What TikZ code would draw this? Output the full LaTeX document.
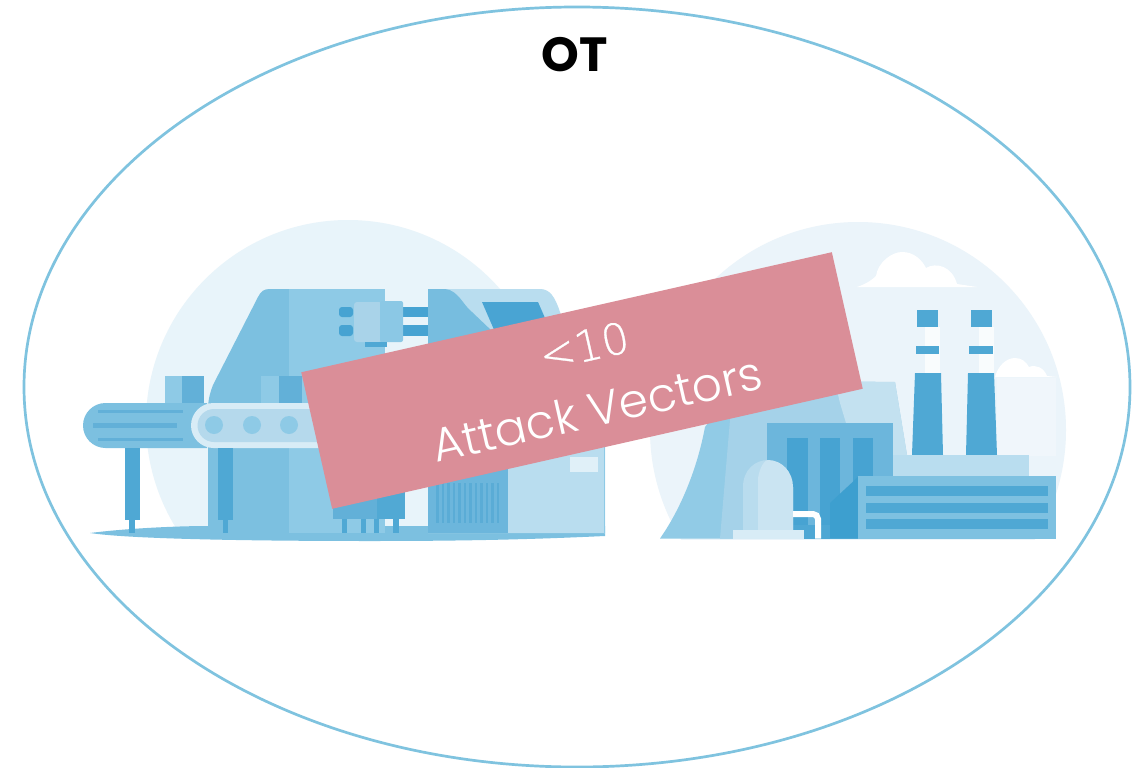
\documentclass[tikz,border=0pt]{standalone}
\usepackage{fontspec}
\usetikzlibrary{shapes.geometric}
\setmainfont{Poppins}
\newfontfamily\lightfont{Poppins}[UprightFont=* Light]
\newfontfamily\thinfont{DejaVu Sans}[UprightFont=* ExtraLight,UprightFeatures={FakeBold=0.7}]
\tikzset{
  px/.style={x=1pt,y=-1pt},
  title text/.style={font=\fontsize{48}{52}\selectfont\bfseries,text=black},
  banner/.style={fill=bannerpink,draw=none,minimum width=544pt,minimum height=140pt,rotate=12.75,inner sep=0pt},
  banner text/.style={font=\lightfont\fontsize{47}{50}\selectfont,text=white,rotate=12.75,inner sep=0pt},
  count text/.style={font=\thinfont\fontsize{43}{50}\selectfont,text=white,rotate=12.75,inner sep=0pt},
}
\definecolor{bannerpink}{HTML}{DA8E98}
\definecolor{ring}{HTML}{7FC3DF}
\definecolor{halo}{HTML}{E8F4FA}
\definecolor{halob}{HTML}{EBF4FA}
\definecolor{mA}{HTML}{7CC0E0}
\definecolor{mB}{HTML}{8ECAE6}
\definecolor{mC}{HTML}{62B0D8}
\definecolor{mD}{HTML}{4FA8D4}
\definecolor{mE}{HTML}{B9DDEF}
\definecolor{mF}{HTML}{46A3D2}
\definecolor{mG}{HTML}{A9D3E9}
\definecolor{mH}{HTML}{D8ECF6}
\definecolor{mI}{HTML}{B5D9EC}
\definecolor{mJ}{HTML}{6CB6DC}
\definecolor{mK}{HTML}{3D9FCF}
\begin{document}
\begin{tikzpicture}[px]
\useasboundingbox (0,0) rectangle (1143,768);
\fill[white] (0,0) rectangle (1143,768);

% ---------- left scene ----------
\begin{scope}
\clip (0,0) rectangle (1143,530);
\fill[halo] (348,422) circle [radius=202];
\end{scope}
\fill[mA] (90,533) .. controls (130,528) and (180,526) .. (208,526) -- (605,526) -- (605,536) .. controls (520,540) and (450,541) .. (370,541) .. controls (250,541) and (130,539) .. (90,533) -- cycle;
% machine left
\fill[mA] (208,533) -- (208,410) .. controls (208,400) and (210,393) .. (213,385) -- (258,297) .. controls (261,291) and (264,289) .. (270,289) -- (289,289) -- (289,533) -- cycle;
\fill[mB] (289,289) rectangle (385,533);
% boxes on the conveyor
\fill[mB] (165,376) rectangle (182,404);
\fill[mC] (182,376) rectangle (204,404);
\fill[mB] (261,376) rectangle (279,404);
\fill[mC] (279,376) rectangle (302,404);
% left conveyor
\fill[mA] (207,403) -- (105.5,403) arc [start angle=270,end angle=90,radius=22.5] -- (207,448) -- cycle;
\fill[mC] (98,410) rectangle (183,413);
\fill[mC] (93,422.5) rectangle (177,428);
\fill[mC] (98,438) rectangle (183,441);
% belt
\fill[mH] (320,403) -- (213.5,403) arc [start angle=270,end angle=90,radius=22.5] -- (320,448) -- cycle;
\fill[mI] (320,409) -- (214,409) arc [start angle=270,end angle=90,radius=16.5] -- (320,442) -- cycle;
\foreach \cx in {214,252,289} \fill[mB] (\cx,425) circle [radius=9];
% legs
\fill[mD] (125,448) rectangle (140,520);
\fill[mD] (129,520) rectangle (135,533);
\fill[mD] (218,448) rectangle (233,520);
\fill[mD] (223,520) rectangle (228,533);
% upper connector
\fill[mF,rounded corners=3pt] (339,307) rectangle (353,317);
\fill[mF,rounded corners=3pt] (339,325) rectangle (353,336);
\fill[mF] (392,307) rectangle (428,317);
\fill[mF] (392,325) rectangle (428,336);
\fill[mG,rounded corners=3pt] (354,302) rectangle (382,342);
\fill[mB!85!mA,rounded corners=2pt] (380,301) rectangle (403,342);
\fill[mD] (365,342) rectangle (387,347);
% right machine
\fill[mE] (440,289) -- (540,289) .. controls (550,289) and (555,297) .. (560,312) -- (605,447) -- (605,533) -- (428,533) -- (428,289) -- cycle;
\fill[mA!90!mF] (428,289) -- (445,289) .. controls (458,290) and (463,305) .. (472,312) -- (493,332) -- (493,400) -- (428,400) -- cycle;
\fill[mF!90!mC] (482,302) -- (538,302) -- (545,318) -- (495,332) -- cycle;
\fill[mJ] (428,430) rectangle (508,533);
\foreach \sx in {436,441.5,...,499} \fill[mC!70!mF] (\sx,483) rectangle +(2.5,40);
\fill[mB] (603.5,440) rectangle (605,534);
\fill[mH!80!white] (570,457) rectangle (598,472);
% lower centre block
\fill[halo] (405,440) rectangle (428,526);
\fill[mC] (333,480) rectangle (377,519);
\fill[mD!90!mC] (377,480) rectangle (405,519);
\foreach \fx/\fw in {342/5,361/5,374/5,393/6} \fill[mD] (\fx,519) rectangle +(\fw,14);

% ---------- right scene ----------
\begin{scope}
\clip (0,0) rectangle (1143,539);
\fill[halob] (858,430) circle [radius=208];
\end{scope}
% clouds
\fill[white] (857,287) .. controls (866,284) and (872,280) .. (876,276) .. controls (878,262) and (892,252) .. (902,252) .. controls (914,252) and (922,260) .. (926,268) .. controls (936,262) and (952,266) .. (957,284) -- (977,287) -- cycle;
\fill[white] (995,377) .. controls (998,366) and (1006,358) .. (1015,358) .. controls (1022,358) and (1026,362) .. (1029,367) .. controls (1036,364) and (1044,368) .. (1047,376) -- (1057,377) -- cycle;
\fill[white,opacity=.25] (997,378) rectangle (1056,456);
% cooling tower
\fill[mB!90!mG] (660,538.5) .. controls (680,510) and (697,470) .. (705,427) -- (740,380) -- (760,380) -- (760,538.5) -- cycle;
\fill[mG!85!mB] (730,420) -- (740,380) -- (895,382) -- (907,455) -- (907,538.5) -- (720,538.5) -- cycle;
\fill[mH!55!mG] (835,382) -- (895,382) -- (907,455) -- (907,480) -- (860,480) -- (846,423) -- (840,403) -- cycle;
% chimneys
\fill[white,opacity=.75] (925,327) rectangle (940,373);
\fill[white,opacity=.75] (979,327) rectangle (994,373);
\fill[mD] (917,310) rectangle (938,327);
\fill[mD] (916,346) rectangle (939,354);
\fill[mD] (915,373) -- (941,373) -- (943,455) -- (912,455) -- cycle;
\fill[mD] (971,310) rectangle (992,327);
\fill[mD] (969,346) rectangle (993,354);
\fill[mD] (968,373) -- (994,373) -- (997,455) -- (966,455) -- cycle;
% terrace
\fill[mE] (893,455) rectangle (1029,477);
% main building
\fill[mJ] (767,423) rectangle (893,538.5);
\fill[mF!90!mD] (787,438) rectangle (808,525);
\fill[mF!90!mD] (820,438) rectangle (840,525);
\fill[mF!90!mD] (853,438) rectangle (873,525);
\fill[mF!80!mJ] (767,525) rectangle (830,538.5);
\fill[mK] (830,503) -- (858,477) -- (858,538.5) -- (830,538.5) -- cycle;
% dome
\fill[mH!35!mG] (743,530) -- (743,487) .. controls (743,470) and (755,460) .. (768,460) -- (793,487) -- (793,530) -- cycle;
\fill[mH!70!mG] (758,530) -- (758,478) .. controls (760,466) and (765,460) .. (768,460) .. controls (782,460) and (793,472) .. (793,487) -- (793,530) -- cycle;
\draw[white,line width=6pt,rounded corners=5pt] (793,514) -- (818,514) -- (818,538.5);
\fill[mH] (733,530) rectangle (804,538.5);
% front building
\fill[mA!90!mB] (858,476) rectangle (1056,539);
\fill[mD] (866,486) rectangle (1048,496);
\fill[mD] (866,503) rectangle (1048,513);
\fill[mD] (866,519) rectangle (1048,529);

% ---------- overlay ----------
\node[draw=ring,line width=2.7pt,ellipse,minimum width=1106pt,minimum height=760pt,inner sep=0pt] (oval) at (577,387) {};
\node[title text] (title) at (575,55) {OT};
\node[banner] (band) at (582,380.5) {};
\node[count text] (count) at (584,346) {<10};
\node[banner text] (vectors) at (597,409) {Attack Vectors};
\end{tikzpicture}
\end{document}
